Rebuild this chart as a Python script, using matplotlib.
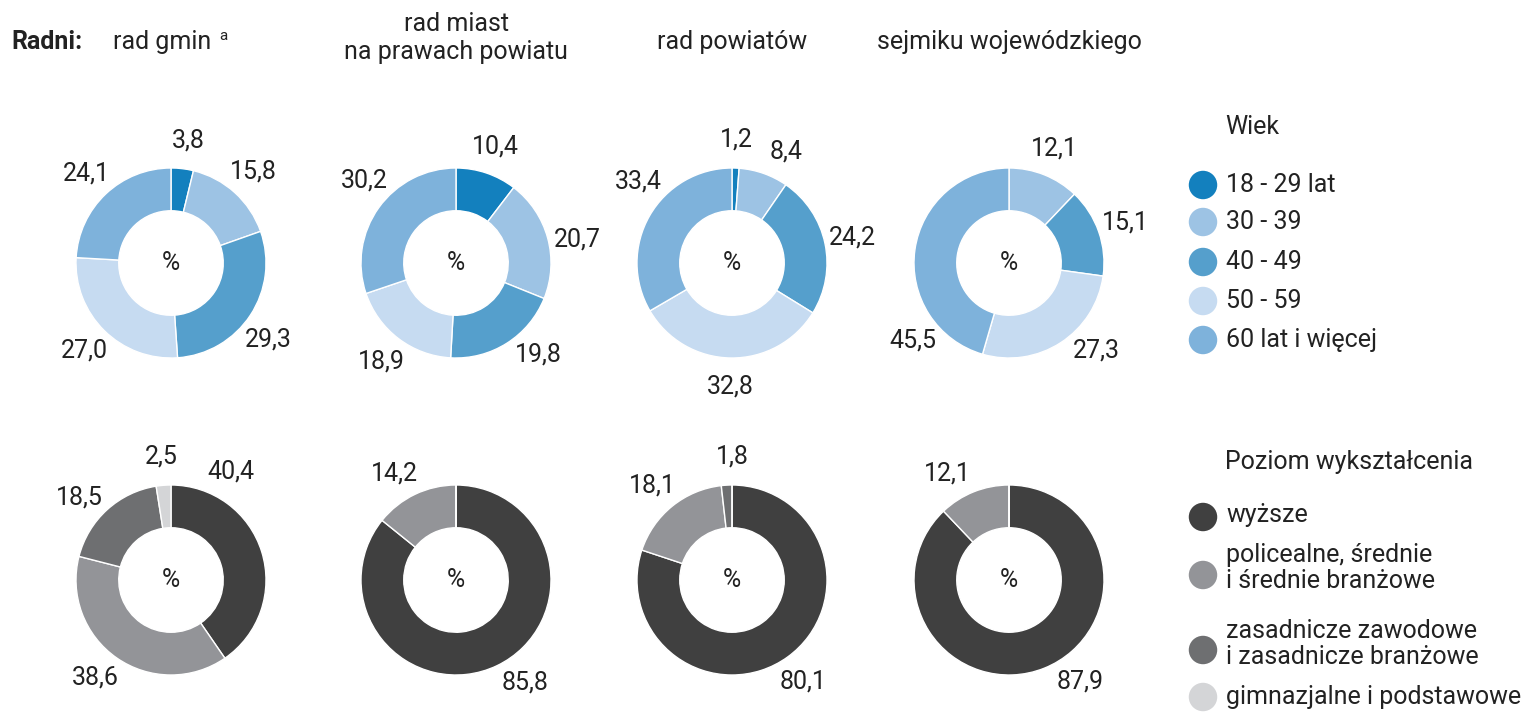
import numpy as np
import matplotlib.pyplot as plt

plt.rcParams['font.family'] = ['Roboto', 'DejaVu Sans']

# Data
bodies = ["rad gmin", "rad miast\nna prawach powiatu", "rad powiatów", "sejmiku wojewódzkiego"]

age_labels = ["18 - 29 lat", "30 - 39", "40 - 49", "50 - 59", "60 lat i więcej"]
age_gmin = [3.8, 15.8, 29.3, 27.0, 24.1]
age_miast = [10.4, 20.7, 19.8, 18.9, 30.2]
age_powiat = [1.2, 8.4, 24.2, 32.8, 33.4]
age_sejmik = [0.0, 12.1, 15.1, 27.3, 45.5]

edu_labels = ["wyższe", "policealne, średnie\ni średnie branżowe",
              "zasadnicze zawodowe\ni zasadnicze branżowe", "gimnazjalne i podstawowe"]
edu_gmin = [40.4, 38.6, 18.5, 2.5]
edu_miast = [85.8, 14.2, 0.0, 0.0]
edu_powiat = [80.1, 18.1, 1.8, 0.0]
edu_sejmik = [87.9, 12.1, 0.0, 0.0]

age_colors = ["#1380be", "#9dc3e4", "#559fcc", "#c6dbf1", "#7eb2db"]
edu_colors = ["#404040", "#939498", "#6e6f71", "#d4d5d7"]

W, H = 1533, 721
fig = plt.figure(figsize=(W / 100, H / 100), dpi=100)
ax = fig.add_axes([0, 0, 1, 1])

col_x = [171, 456, 732, 1009]
row_y = [H - 263, H - 580]
R = 95
FS = 18
TXT = '#222222'

# label angle tweaks (degrees clockwise from 12 o'clock)
angle_fix = {
    (0, 0, 0): 8, (0, 0, 2): 128,
    (0, 1, 1): 79, (0, 1, 2): 138, (0, 1, 4): 312,
    (0, 2, 1): 26, (0, 2, 4): 311,
    (0, 3, 3): 135, (0, 3, 4): 231,
    (1, 0, 0): 29, (1, 0, 1): 218, (1, 0, 2): 312,
    (1, 1, 0): 146, (1, 1, 1): 330,
    (1, 2, 0): 145, (1, 2, 1): 320, (1, 2, 2): 0,
    (1, 3, 0): 145, (1, 3, 1): 330,
}

rows = [(age_colors, [age_gmin, age_miast, age_powiat, age_sejmik]),
        (edu_colors, [edu_gmin, edu_miast, edu_powiat, edu_sejmik])]

for r, (colors, series) in enumerate(rows):
    for c, vals in enumerate(series):
        cx, cy = col_x[c], row_y[r]
        ax.pie(vals, colors=colors, startangle=90, counterclock=False,
               center=(cx, cy), radius=R, frame=True,
               wedgeprops=dict(width=R * 0.45, edgecolor='white', linewidth=1))
        ax.text(cx, cy, "%", ha='center', va='center', fontsize=FS, color=TXT)
        cum = 0
        for i, v in enumerate(vals):
            if v <= 0:
                continue
            mid = (cum + v / 2) / 100 * 360
            cum += v
            a = np.deg2rad(angle_fix.get((r, c, i), mid))
            d = R * 1.3
            ax.text(cx + d * np.sin(a), cy + d * np.cos(a),
                    ("%.1f" % v).replace('.', ','), ha='center', va='center',
                    fontsize=FS, color=TXT)

ax.set_xlim(0, W)
ax.set_ylim(0, H)
ax.set_aspect('equal')
ax.axis('off')

# headers
ax.text(11, H - 42, "Radni:", fontsize=FS, fontweight='bold', ha='left', va='center', color=TXT)
ax.text(113, H - 42, bodies[0], fontsize=FS, ha='left', va='center', color=TXT)
ax.text(219, H - 36, "a", fontsize=11, ha='left', va='center', color=TXT)
ax.text(col_x[1], H - 38, bodies[1], fontsize=FS, ha='center', va='center',
        color=TXT, linespacing=1.2)
ax.text(col_x[2], H - 42, bodies[2], fontsize=FS, ha='center', va='center', color=TXT)
ax.text(col_x[3], H - 42, bodies[3], fontsize=FS, ha='center', va='center', color=TXT)

# legends
ax.text(1225, H - 127, "Wiek", fontsize=FS, ha='left', va='center', color=TXT)
age_y = [185, 222, 262, 301, 340]
for lab, col, y in zip(age_labels, age_colors, age_y):
    ax.scatter(1203, H - y, s=420, color=col, edgecolors='none')
    ax.text(1226, H - y, lab, fontsize=FS, ha='left', va='center', color=TXT)

ax.text(1225, H - 462, "Poziom wykształcenia", fontsize=FS, ha='left', va='center', color=TXT)
edu_text_y = [515, 568, 644, 697]
edu_dot_y = [517, 575, 650, 697]
for lab, col, ty, dy in zip(edu_labels, edu_colors, edu_text_y, edu_dot_y):
    ax.scatter(1203, H - dy, s=420, color=col, edgecolors='none')
    ax.text(1226, H - ty, lab, fontsize=FS, ha='left', va='center', color=TXT,
            linespacing=1.1)

fig.savefig("out.png", dpi=100)
